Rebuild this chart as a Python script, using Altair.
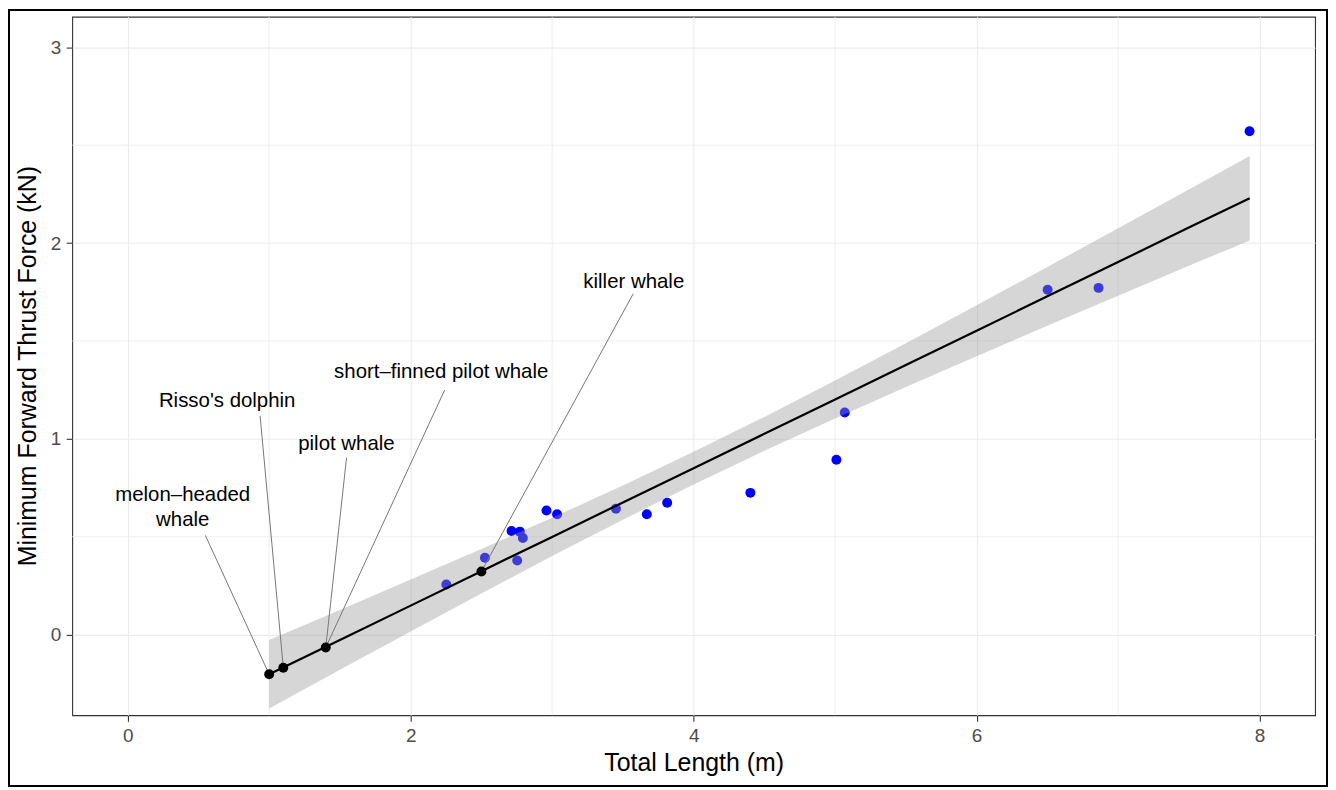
import altair as alt
import pandas as pd

# ---- data ----
blue_x = [2.252, 2.525, 2.753, 2.713, 2.772, 2.793, 2.960, 3.035, 3.451,
          3.669, 3.813, 4.401, 5.009, 5.068, 6.502, 6.862, 7.929]
blue_y = [0.256, 0.392, 0.378, 0.529, 0.526, 0.493, 0.634, 0.615, 0.643,
          0.615, 0.673, 0.724, 0.893, 1.134, 1.761, 1.771, 2.571]

pred_x = [1.0, 1.1, 1.4, 2.5]
pred_y = [-0.203, -0.169, -0.066, 0.322]

fit_x = [1.0, 1.5, 2.0, 2.5, 3.0, 3.5, 4.0, 4.5, 5.0, 5.5, 6.0, 6.5, 7.0, 7.5, 7.93]
fit_y = [-0.203, -0.028, 0.148, 0.324, 0.499, 0.675, 0.850, 1.026, 1.201,
         1.377, 1.552, 1.728, 1.903, 2.079, 2.229]
fit_lo = [-0.378, -0.180, 0.016, 0.210, 0.401, 0.587, 0.767, 0.939, 1.104,
          1.265, 1.422, 1.577, 1.731, 1.884, 2.013]
fit_hi = [-0.028, 0.125, 0.281, 0.437, 0.597, 0.762, 0.934, 1.112, 1.298,
          1.488, 1.682, 1.878, 2.075, 2.273, 2.445]

label_text = ["melon\u2013headed\nwhale", "Risso's dolphin", "pilot whale",
              "short\u2013finned pilot whale", "killer whale"]
label_x = [0.389, 0.703, 1.546, 2.216, 3.577]
label_y = [0.712, 1.193, 0.975, 1.342, 1.800]
seg_x = [0.549, 0.936, 1.547, 2.240, 3.573]
seg_y = [0.507, 1.117, 0.904, 1.249, 1.741]
seg_x2 = [1.0, 1.1, 1.4, 1.4, 2.5]
seg_y2 = [-0.203, -0.169, -0.066, -0.066, 0.322]

x_ticks = [0, 2, 4, 6, 8]
y_ticks = [0, 1, 2, 3]
x_minor = [1, 3, 5, 7]
y_minor = [0.5, 1.5, 2.5]

# ---- tables ----
pts = pd.DataFrame({"x": blue_x, "y": blue_y})
pred = pd.DataFrame({"x": pred_x, "y": pred_y})
fit = pd.DataFrame({"x": fit_x, "y": fit_y, "lo": fit_lo, "hi": fit_hi})
labels = pd.DataFrame({"t": label_text, "x": label_x, "y": label_y})
segs = pd.DataFrame({"x": seg_x, "y": seg_y, "x2": seg_x2, "y2": seg_y2})
xmin = pd.DataFrame({"x": x_minor})
ymin = pd.DataFrame({"y": y_minor})

FONT = "Liberation Sans"
xscale = alt.Scale(domain=[-0.392, 8.392], nice=False, zero=False)
yscale = alt.Scale(domain=[-0.412, 3.156], nice=False, zero=False)

xaxis = alt.Axis(values=x_ticks, title="Total Length (m)", titleY=55,
                 titleBaseline="alphabetic", labelPadding=5)
yaxis = alt.Axis(values=y_ticks, title="Minimum Forward Thrust Force (kN)",
                 titleAngle=270, titleX=-37, titleY=350.5, titleAlign="center",
                 titleBaseline="alphabetic", labelPadding=5.5)

X = lambda f="x": alt.X(f"{f}:Q", scale=xscale, axis=xaxis)
Y = lambda f="y": alt.Y(f"{f}:Q", scale=yscale, axis=yaxis)

minor_v = alt.Chart(xmin).mark_rule(color="#EBEBEB", strokeWidth=0.8).encode(x=X())
minor_h = alt.Chart(ymin).mark_rule(color="#EBEBEB", strokeWidth=0.8).encode(y=Y())

blue = alt.Chart(pts).mark_circle(color="#0000FF", size=100, opacity=1).encode(x=X(), y=Y())

band = alt.Chart(fit).mark_area(color="#999999", opacity=0.4).encode(
    x=X(), y=Y("lo"), y2="hi:Q")

line = alt.Chart(fit).mark_line(color="black", strokeWidth=2.2).encode(x=X(), y=Y())

leaders = alt.Chart(segs).mark_rule(color="#777777", strokeWidth=1).encode(
    x=X(), y=Y(), x2="x2:Q", y2="y2:Q")

black = alt.Chart(pred).mark_circle(color="black", size=100, opacity=1).encode(x=X(), y=Y())

texts = alt.Chart(labels).mark_text(
    font=FONT, fontSize=20.5, color="black", align="center", baseline="middle",
    lineBreak="\n", lineHeight=25).encode(x=X(), y=Y(), text="t:N")

frame = alt.Chart(pts).mark_rect(
    fillOpacity=0, stroke="black", strokeWidth=1.6).encode(
    x=alt.value(-64), x2=alt.value(1260.5), y=alt.value(-6.5), y2=alt.value(772.5))

chart = alt.layer(minor_v, minor_h, blue, band, leaders, line, black, texts, frame).properties(
    width=1248.5, height=701.7,
    autosize=alt.AutoSizeParams(type="none"),
    padding={"left": 64.5, "top": 7, "right": 13, "bottom": 72.5},
    background="white",
).configure_view(
    stroke="#333333", strokeWidth=1.1
).configure_axis(
    grid=True, gridColor="#EBEBEB", gridWidth=1.1,
    domain=False, tickColor="#333333", tickWidth=1.1, tickSize=6,
    labelFont=FONT, labelFontSize=19, labelColor="#4D4D4D",
    titleFont=FONT, titleFontSize=25, titleColor="black", titleFontWeight="normal",
)

chart.save("out.html", embed_options={"renderer": "svg", "actions": False})
